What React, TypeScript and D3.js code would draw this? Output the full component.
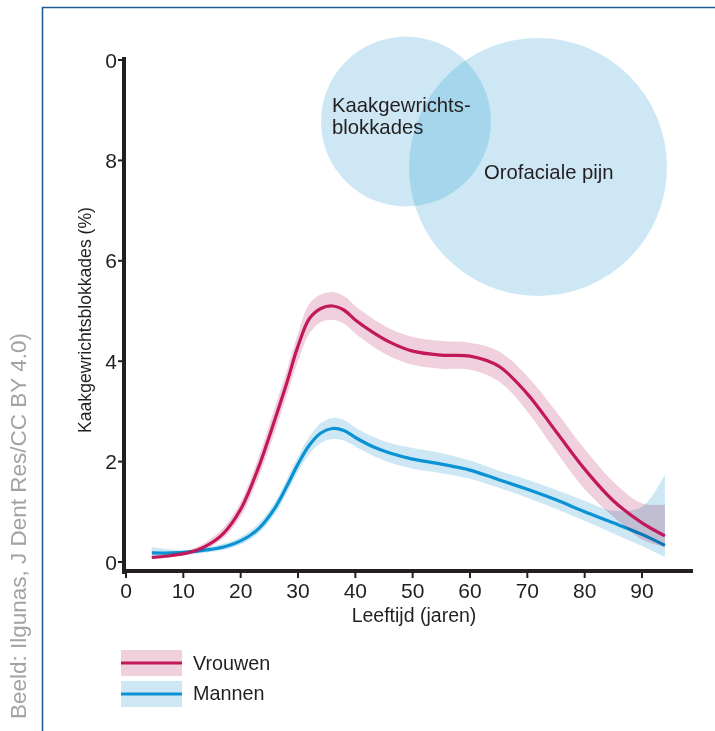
import React from 'react';
import * as d3 from 'd3';

// leeftijd (jaren)
const ages = [4.5, 8, 11, 14, 17, 20, 23, 26, 28, 30, 32, 34, 36, 38, 40, 43, 46, 50, 55, 60, 65, 70, 75, 80, 85, 90, 94];

// Vrouwen (%)
const vrouwen = [0.09, 0.13, 0.19, 0.32, 0.57, 1.05, 1.85, 2.85, 3.55, 4.3, 4.85, 5.05, 5.1, 5.02, 4.82, 4.58, 4.38, 4.2, 4.12, 4.1, 3.9, 3.35, 2.6, 1.85, 1.22, 0.78, 0.52];
const vrouwenLow = [0.06, 0.1, 0.15, 0.26, 0.48, 0.9, 1.65, 2.6, 3.3, 4.0, 4.55, 4.78, 4.82, 4.75, 4.55, 4.3, 4.1, 3.93, 3.85, 3.83, 3.6, 3.0, 2.2, 1.45, 0.9, 0.45, 0.3];
const vrouwenHigh = [0.13, 0.17, 0.24, 0.4, 0.68, 1.2, 2.05, 3.1, 3.8, 4.55, 5.15, 5.33, 5.38, 5.3, 5.1, 4.85, 4.65, 4.48, 4.4, 4.37, 4.2, 3.7, 3.0, 2.25, 1.6, 1.17, 1.14];

// Mannen (%)
const mannen = [0.18, 0.18, 0.2, 0.24, 0.3, 0.42, 0.65, 1.08, 1.5, 1.95, 2.33, 2.57, 2.66, 2.62, 2.48, 2.3, 2.17, 2.05, 1.95, 1.83, 1.64, 1.45, 1.24, 1.0, 0.78, 0.55, 0.33];
const mannenLow = [0.07, 0.12, 0.15, 0.19, 0.24, 0.35, 0.56, 0.96, 1.36, 1.8, 2.15, 2.37, 2.45, 2.42, 2.3, 2.12, 1.98, 1.86, 1.77, 1.66, 1.48, 1.28, 1.06, 0.82, 0.57, 0.32, 0.1];
const mannenHigh = [0.3, 0.25, 0.24, 0.29, 0.37, 0.5, 0.75, 1.2, 1.64, 2.1, 2.5, 2.77, 2.87, 2.83, 2.68, 2.5, 2.37, 2.27, 2.17, 2.02, 1.82, 1.64, 1.44, 1.22, 1.02, 1.1, 1.75];

const xTicks = [0, 10, 20, 30, 40, 50, 60, 70, 80, 90];
const yTicks = [0, 2, 4, 6, 8, 10];
const yTickLabels = ['0', '2', '4', '6', '8', '0'];

const PINK = '#c2185b';
const PINK_BAND = '#f0d0dc';
const BLUE = '#0a92d4';
const BLUE_BAND = '#cde8f4';
const INK = '#231f20';
const FONT = '"Liberation Sans", Arial, sans-serif';

const App: React.FC = () => {
  const width = 715;
  const height = 731;

  const x = d3.scaleLinear().domain([0, 90]).range([126, 642]);
  const y = d3.scaleLinear().domain([0, 10]).range([562, 60]);

  const curve = d3.curveCatmullRom.alpha(0.5);

  const band = (lo: number[], hi: number[]) =>
    d3.area<number>()
      .x((_, i) => x(ages[i]))
      .y0((_, i) => y(lo[i]))
      .y1((_, i) => y(hi[i]))
      .curve(curve)(ages) || '';

  const line = (vals: number[]) =>
    d3.line<number>()
      .x((_, i) => x(ages[i]))
      .y((_, i) => y(vals[i]))
      .curve(curve)(ages) || '';

  return (
    <div style={{ position: 'absolute', left: 0, top: 0 }}>
      <svg width={width} height={height} style={{ display: 'block', background: '#fff' }} fontFamily={FONT}>
        {/* frame */}
        <path d={`M42.5,${height} V7.5 H${width}`} fill="none" stroke="#1f5d96" strokeWidth={1.6} />

        {/* bron */}
        <text transform="translate(26,333) rotate(-90)" textAnchor="end" fontSize={22.5} fill="#a3a3a3">
          Beeld: Ilgunas, J Dent Res/CC BY 4.0)
        </text>

        {/* Venn circles */}
        <g>
          <circle cx={406} cy={121.5} r={85} fill="#1c97cd" fillOpacity={0.22} />
          <circle cx={538} cy={167} r={129} fill="#1c97cd" fillOpacity={0.22} />
          <text x={332} y={112} fontSize={20.3} fill={INK}>Kaakgewrichts-</text>
          <text x={332} y={134} fontSize={20.3} fill={INK}>blokkades</text>
          <text x={484} y={179} fontSize={20.3} fill={INK}>Orofaciale pijn</text>
        </g>

        {/* series */}
        <path d={band(mannenLow, mannenHigh)} fill={BLUE_BAND} style={{ mixBlendMode: 'multiply' }} />
        <path d={line(mannen)} fill="none" stroke={BLUE} strokeWidth={3.2} />
        <path d={band(vrouwenLow, vrouwenHigh)} fill={PINK_BAND} style={{ mixBlendMode: 'multiply' }} />
        <path d={line(vrouwen)} fill="none" stroke={PINK} strokeWidth={3.2} />

        {/* y axis */}
        <line x1={124} x2={124} y1={57} y2={574} stroke={INK} strokeWidth={4} />
        {yTicks.map((t, i) => (
          <g key={`y${i}`}>
            <line x1={118} x2={124} y1={y(t)} y2={y(t)} stroke={INK} strokeWidth={2} />
            <text x={117} y={y(t)} dy="0.36em" textAnchor="end" fontSize={21} fill={INK}>{yTickLabels[i]}</text>
          </g>
        ))}

        {/* x axis */}
        <line x1={122} x2={693} y1={571} y2={571} stroke={INK} strokeWidth={4} />
        {xTicks.map(t => (
          <g key={`x${t}`}>
            <line x1={x(t)} x2={x(t)} y1={571} y2={578} stroke={INK} strokeWidth={2} />
            <text x={x(t)} y={598} textAnchor="middle" fontSize={21} fill={INK}>{t}</text>
          </g>
        ))}

        <text x={414} y={622} textAnchor="middle" fontSize={19.5} fill={INK}>Leeftijd (jaren)</text>
        <text transform="translate(91,320) rotate(-90)" textAnchor="middle" fontSize={17.6} fill={INK}>
          Kaakgewrichtsblokkades (%)
        </text>

        {/* legend */}
        <rect x={121} y={650} width={61} height={26} fill={PINK_BAND} />
        <line x1={121} x2={182} y1={663} y2={663} stroke={PINK} strokeWidth={3.2} />
        <text x={193} y={670} fontSize={19.8} fill={INK}>Vrouwen</text>
        <rect x={121} y={681} width={61} height={26} fill={BLUE_BAND} />
        <line x1={121} x2={182} y1={694} y2={694} stroke={BLUE} strokeWidth={3.2} />
        <text x={193} y={700} fontSize={19.8} fill={INK}>Mannen</text>
      </svg>
    </div>
  );
};

export default App;
